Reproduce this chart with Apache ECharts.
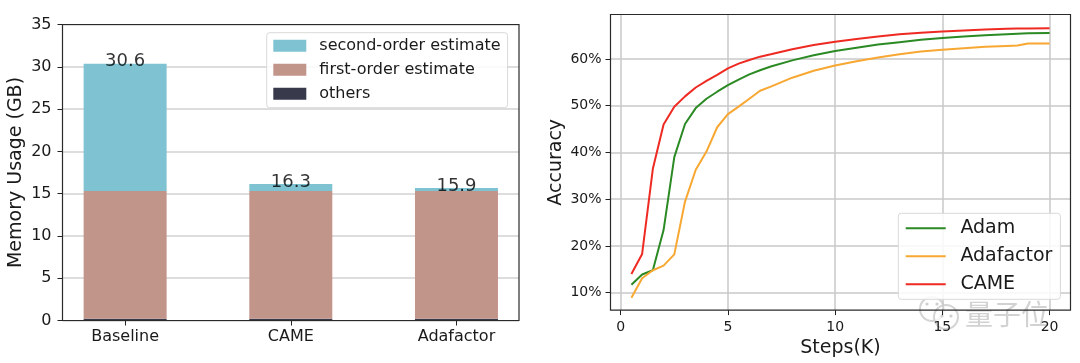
<!DOCTYPE html>
<html>
<head>
<meta charset="utf-8">
<script src="https://cdn.jsdelivr.net/npm/echarts@6/dist/echarts.min.js"></script>
<style>
html,body{margin:0;padding:0;background:#fff;}
#chart{width:1080px;height:363px;}
</style>
</head>
<body>
<div id="chart"></div>
<script>
// ---------- Left chart data ----------
const categories = ['Baseline', 'CAME', 'Adafactor'];
const othersMem = [0.22, 0.22, 0.22];
const firstOrderMem = [15.08, 15.08, 15.08];
const secondOrderMem = [15.07, 0.84, 0.37];
const totalLabels = [30.6, 16.3, 15.9];

// ---------- Right chart data ----------
const steps = [0.5, 1, 1.5, 2, 2.5, 3, 3.5, 4, 4.5, 5, 5.5, 6, 6.5, 7, 8, 9, 10, 11, 12, 13, 14, 15, 16, 17, 18, 18.5, 19, 20];
const adamAcc = [11.7, 13.9, 14.8, 23.4, 39.0, 46.1, 49.5, 51.5, 53.0, 54.4, 55.6, 56.7, 57.6, 58.4, 59.7, 60.8, 61.7, 62.4, 63.1, 63.6, 64.1, 64.5, 64.8, 65.1, 65.3, 65.4, 65.5, 65.55];
const adafactorAcc = [8.9, 13.1, 14.8, 15.8, 18.2, 29.5, 36.3, 40.2, 45.4, 48.2, 49.8, 51.5, 53.2, 54.1, 56.0, 57.5, 58.6, 59.5, 60.3, 61.0, 61.6, 62.0, 62.3, 62.6, 62.8, 62.9, 63.3, 63.3];
const cameAcc = [14.0, 18.3, 36.5, 46.0, 49.8, 52.0, 53.9, 55.3, 56.6, 58.0, 59.0, 59.8, 60.5, 61.0, 62.1, 63.0, 63.7, 64.3, 64.8, 65.3, 65.6, 65.9, 66.1, 66.3, 66.45, 66.5, 66.55, 66.6];
const stepTicks = [0, 5, 10, 15, 20];
const accTicks = [10, 20, 30, 40, 50, 60];

const FONT = 'DejaVu Sans';
const pairs = (xs, ys) => xs.map((x, i) => [x, ys[i]]);

const chart = echarts.init(document.getElementById('chart'), null, {renderer: 'canvas'});

const tickStyle = {color: '#222', width: 1};

const option = {
  animation: false,
  backgroundColor: '#ffffff',
  textStyle: {fontFamily: FONT},
  grid: [
    {left: 62.5, top: 24.5, width: 456.5, height: 296, show: true, z: 6, borderColor: '#2a2a2a', borderWidth: 1.2, backgroundColor: 'transparent'},
    {left: 42.3, top: 24.5, width: 497, height: 296, show: false},
    {left: 610.5, top: 14.5, width: 460, height: 299, show: true, z: 6, borderColor: '#2a2a2a', borderWidth: 1.2, backgroundColor: 'transparent'}
  ],
  legend: [
    {
      orient: 'vertical', left: 266.7, top: 32.7, z: 8,
      padding: [5, 7, 6, 6.6],
      itemWidth: 33, itemHeight: 12, itemGap: 8,
      icon: 'rect',
      data: ['second-order estimate', 'first-order estimate', 'others'],
      textStyle: {fontFamily: FONT, fontSize: 16, lineHeight: 16, color: '#1a1a1a', padding: [0, 0, 0, 8]},
      backgroundColor: 'rgba(255,255,255,0.85)',
      borderColor: '#d9d9d9', borderWidth: 1, borderRadius: 3
    },
    {
      orient: 'vertical', left: 898.3, top: 213.3, z: 8,
      padding: [5.5, 8, 5.5, 7.4],
      itemWidth: 40, itemHeight: 2, itemGap: 9,
      icon: 'rect',
      data: ['Adam', 'Adafactor', 'CAME'],
      textStyle: {fontFamily: FONT, fontSize: 19, lineHeight: 19, color: '#1a1a1a', padding: [0, 0, 0, 9.7]},
      backgroundColor: 'rgba(255,255,255,0.85)',
      borderColor: '#d9d9d9', borderWidth: 1, borderRadius: 3
    }
  ],
  xAxis: [
    {gridIndex: 0, type: 'value', min: -0.375, max: 2.375, show: false},
    {
      gridIndex: 1, type: 'category', data: categories, boundaryGap: true,
      axisLine: {show: false},
      axisTick: {show: true, alignWithLabel: true, length: 5, lineStyle: tickStyle},
      axisLabel: {fontFamily: FONT, fontSize: 16, color: '#1a1a1a', margin: 8},
      splitLine: {show: false}
    },
    {
      gridIndex: 2, type: 'value', min: -0.475, max: 20.975,
      name: 'Steps(K)', nameLocation: 'middle', nameGap: 26,
      nameTextStyle: {fontFamily: FONT, fontSize: 19, color: '#1a1a1a'},
      axisLine: {show: false, onZero: false},
      axisTick: {show: true, customValues: stepTicks, length: 5, lineStyle: tickStyle},
      axisLabel: {customValues: stepTicks, fontFamily: FONT, fontSize: 14, color: '#1a1a1a', margin: 10},
      splitLine: {show: true, lineStyle: {color: '#c8c8c8', width: 1.5}}
    }
  ],
  yAxis: [
    {
      gridIndex: 0, type: 'value', min: 0, max: 35, interval: 5,
      name: 'Memory Usage (GB)', nameLocation: 'middle', nameGap: 37, nameRotate: 90,
      nameTextStyle: {fontFamily: FONT, fontSize: 19, color: '#1a1a1a'},
      axisLine: {show: false, onZero: false},
      axisTick: {show: true, length: 5, lineStyle: tickStyle},
      axisLabel: {fontFamily: FONT, fontSize: 16, color: '#1a1a1a', margin: 11},
      splitLine: {show: true, lineStyle: {color: '#d2d2d2', width: 1.5}}
    },
    {gridIndex: 1, type: 'value', min: 0, max: 35, show: false, splitLine: {show: false}},
    {
      gridIndex: 2, type: 'value', min: 6.28, max: 69.52,
      name: 'Accuracy', nameLocation: 'middle', nameGap: 45, nameRotate: 90,
      nameTextStyle: {fontFamily: FONT, fontSize: 19, color: '#1a1a1a'},
      axisLine: {show: false, onZero: false},
      axisTick: {show: true, customValues: accTicks, length: 5, lineStyle: tickStyle},
      axisLabel: {customValues: accTicks, formatter: '{value}%', fontFamily: FONT, fontSize: 14, color: '#1a1a1a', margin: 9},
      splitLine: {show: true, lineStyle: {color: '#c8c8c8', width: 1.5}}
    }
  ],
  series: [
    {name: 'others', type: 'bar', xAxisIndex: 1, yAxisIndex: 1, stack: 'mem', barWidth: 83,
     itemStyle: {color: '#383a4c'}, data: othersMem},
    {name: 'first-order estimate', type: 'bar', xAxisIndex: 1, yAxisIndex: 1, stack: 'mem', barWidth: 83,
     itemStyle: {color: '#c2958b'}, data: firstOrderMem},
    {name: 'second-order estimate', type: 'bar', xAxisIndex: 1, yAxisIndex: 1, stack: 'mem', barWidth: 83,
     itemStyle: {color: '#7fc3d2'}, data: secondOrderMem},
    {name: 'totals', type: 'scatter', xAxisIndex: 1, yAxisIndex: 1, symbolSize: 0, z: 5,
     label: {show: true, position: 'inside', formatter: p => p.value.toFixed(1), fontFamily: FONT, fontSize: 18, color: '#000'},
     data: totalLabels},
    {name: 'Adam', type: 'line', xAxisIndex: 2, yAxisIndex: 2, symbol: 'none', z: 3,
     lineStyle: {color: '#2b8a23', width: 2}, itemStyle: {color: '#2b8a23'}, data: pairs(steps, adamAcc)},
    {name: 'Adafactor', type: 'line', xAxisIndex: 2, yAxisIndex: 2, symbol: 'none', z: 3,
     lineStyle: {color: '#f8a832', width: 2}, itemStyle: {color: '#f8a832'}, data: pairs(steps, adafactorAcc)},
    {name: 'CAME', type: 'line', xAxisIndex: 2, yAxisIndex: 2, symbol: 'none', z: 3,
     lineStyle: {color: '#ee2a22', width: 2}, itemStyle: {color: '#ee2a22'}, data: pairs(steps, cameAcc)}
  ],
  graphic: [
    {type: 'group', z: 100, children: [
      {type: 'circle', shape: {cx: 932, cy: 309, r: 12}, style: {fill: 'rgba(255,255,255,0.6)', stroke: '#d4d4d4', lineWidth: 2}},
      {type: 'circle', shape: {cx: 946, cy: 317, r: 12}, style: {fill: 'rgba(255,255,255,0.7)', stroke: '#d4d4d4', lineWidth: 2}},
      {type: 'circle', shape: {cx: 927, cy: 304, r: 1.6}, style: {fill: '#cfcfcf'}},
      {type: 'circle', shape: {cx: 937, cy: 304, r: 1.6}, style: {fill: '#cfcfcf'}},
      {type: 'circle', shape: {cx: 942, cy: 316, r: 1.6}, style: {fill: '#cfcfcf'}},
      {type: 'circle', shape: {cx: 951, cy: 316, r: 1.6}, style: {fill: '#cfcfcf'}},
      {type: 'text', x: 965, y: 300, style: {text: '量子位', font: '28px "Noto Sans CJK SC"', fill: 'rgba(205,205,205,0.9)', stroke: 'rgba(255,255,255,0.8)', lineWidth: 2}}
    ]}
  ]
};
chart.setOption(option);
</script>
</body>
</html>
